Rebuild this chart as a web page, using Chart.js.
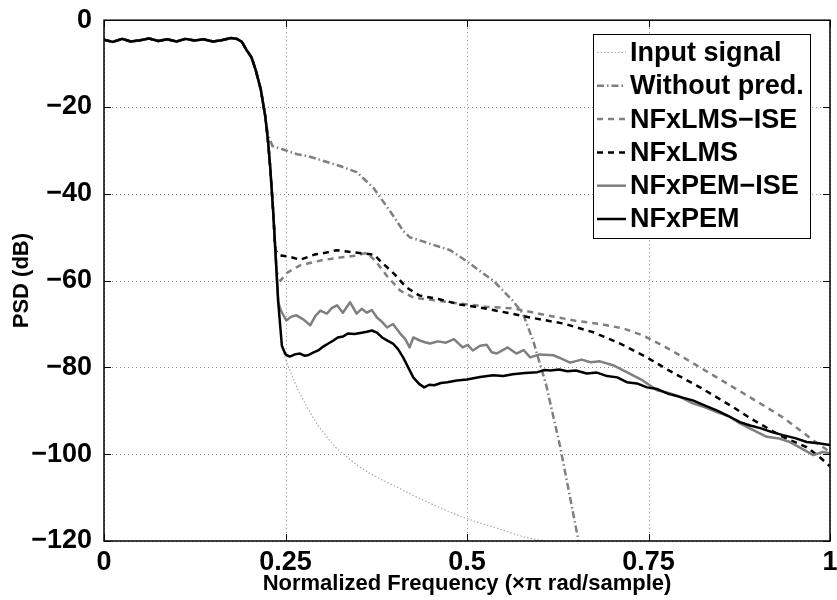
<!DOCTYPE html>
<html>
<head>
<meta charset="utf-8">
<script src="https://cdn.jsdelivr.net/npm/chart.js@4.4.1/dist/chart.umd.min.js"></script>
<style>
  body { margin: 0; background: #fff; }
  #wrap { width: 837px; height: 600px; }
</style>
</head>
<body>
<div id="wrap"><canvas id="psdChart" width="837" height="600"></canvas></div>
<script>
// axis ticks
const xTickValues = [0, 0.25, 0.5, 0.75, 1];
const xTickLabels = ['0', '0.25', '0.5', '0.75', '1'];
const yTickValues = [-120, -100, -80, -60, -40, -20, 0];

// shared passband + start of the transition (all curves overlap here)
const passFreq = [0, 0.012, 0.025, 0.037, 0.05, 0.062, 0.075, 0.087, 0.1, 0.112, 0.125, 0.137,
  0.15, 0.162, 0.175, 0.183, 0.19, 0.196, 0.203, 0.209, 0.216, 0.222];
const passPsd = [-4.5, -5.0, -4.3, -4.9, -4.6, -4.2, -4.8, -4.4, -4.9, -4.3, -4.7, -4.4,
  -4.9, -4.6, -4.1, -4.3, -5.0, -6.8, -8.5, -11.5, -16.0, -22.0];

// further steps of the steep drop, shared by the curves that go deeper
const dropFreq1 = [0.226, 0.229, 0.233, 0.236];
const dropPsd1 = [-28, -34, -44, -53];
const dropFreq2 = [0.240];
const dropPsd2 = [-65];
const dropFreq3 = [0.245];
const dropPsd3 = [-75];

// Without pred.
const noPredFreq = [0.226, 0.232, 0.247, 0.266, 0.280, 0.300, 0.325, 0.348, 0.371, 0.394, 0.412,
  0.421, 0.449, 0.477, 0.500, 0.536, 0.563, 0.577, 0.591, 0.609, 0.628, 0.642, 0.653, 0.656];
const noPredPsd = [-26.5, -29.0, -29.8, -30.9, -31.3, -32.3, -33.6, -35.0, -38.6, -44.0, -48.5,
  -50.0, -51.5, -53.0, -55.6, -60.0, -64.6, -67.6, -73.8, -84.0, -98.0, -110.0, -119.5, -123.0];

// NFxLMS-ISE
const lmsIseFreq = [0.238, 0.243, 0.252, 0.270, 0.300, 0.325, 0.345, 0.362, 0.374, 0.390,
  0.408, 0.426, 0.458, 0.490, 0.526, 0.563, 0.610, 0.651, 0.683, 0.715,
  0.742, 0.770, 0.797, 0.844, 0.890, 0.935, 0.977, 1.0];
const lmsIsePsd = [-58.0, -60.0, -58.2, -56.5, -55.3, -54.7, -54.3, -53.6, -55.5, -59.0,
  -62.3, -63.9, -64.6, -65.3, -66.0, -66.4, -68.0, -69.3, -70.0, -71.0,
  -72.6, -75.0, -77.6, -82.3, -86.9, -91.5, -96.8, -99.5];

// NFxLMS
const lmsFreq = [0.242, 0.256, 0.270, 0.290, 0.305, 0.320, 0.340, 0.360, 0.372, 0.380,
  0.400, 0.416, 0.434, 0.462, 0.490, 0.518, 0.555, 0.587, 0.633, 0.674,
  0.711, 0.748, 0.776, 0.821, 0.867, 0.890, 0.935, 0.968, 0.986, 1.0];
const lmsPsd = [-54.2, -54.5, -55.2, -54.0, -53.6, -53.0, -53.4, -53.8, -54.0, -55.4,
  -58.5, -61.5, -63.4, -64.3, -65.5, -66.2, -67.4, -68.5, -69.9, -71.9,
  -74.5, -77.7, -80.5, -84.6, -89.2, -91.7, -96.0, -98.4, -100.7, -102.8];

// NFxPEM-ISE
const pemIseFreq = [0.244, 0.251, 0.258, 0.265, 0.275, 0.284, 0.291, 0.298, 0.307, 0.314,
  0.321, 0.329, 0.339, 0.348, 0.355, 0.362, 0.369, 0.376, 0.383, 0.390,
  0.398, 0.408, 0.415, 0.421, 0.426, 0.435, 0.442, 0.449, 0.460, 0.471,
  0.482, 0.494, 0.501, 0.508, 0.518, 0.527, 0.534, 0.541, 0.556, 0.568,
  0.578, 0.587, 0.600, 0.619, 0.630, 0.642, 0.658, 0.670, 0.683, 0.701,
  0.720, 0.742, 0.762, 0.775, 0.790, 0.811, 0.828, 0.844, 0.860, 0.876,
  0.895, 0.913, 0.930, 0.945, 0.960, 0.977, 0.990, 1.0];
const pemIsePsd = [-67.0, -69.2, -68.3, -68.0, -69.0, -70.3, -68.2, -66.9, -67.6, -66.3,
  -65.7, -67.4, -65.0, -67.6, -66.5, -67.4, -66.8, -68.5, -69.5, -70.8,
  -70.0, -72.2, -73.5, -75.4, -73.1, -73.8, -74.2, -74.5, -74.0, -74.3,
  -73.5, -75.4, -74.8, -76.1, -75.0, -74.8, -76.5, -76.8, -75.4, -76.8,
  -76.0, -77.7, -77.0, -77.2, -78.0, -78.9, -78.2, -78.8, -78.6, -79.5,
  -81.1, -83.0, -85.3, -85.8, -86.5, -88.3, -89.2, -90.3, -91.2, -92.9,
  -94.5, -96.0, -96.4, -97.2, -98.6, -100.2, -99.5, -99.8];

// NFxPEM
const pemFreq = [0.250, 0.256, 0.263, 0.270, 0.276, 0.281, 0.288, 0.295, 0.302, 0.309,
  0.316, 0.322, 0.329, 0.336, 0.345, 0.355, 0.362, 0.369, 0.376, 0.383,
  0.391, 0.398, 0.405, 0.412, 0.419, 0.426, 0.434, 0.441, 0.448, 0.455,
  0.464, 0.473, 0.486, 0.500, 0.518, 0.536, 0.550, 0.563, 0.580, 0.597,
  0.607, 0.615, 0.627, 0.638, 0.650, 0.665, 0.679, 0.693, 0.707, 0.720,
  0.734, 0.748, 0.762, 0.776, 0.793, 0.811, 0.828, 0.844, 0.860, 0.876,
  0.890, 0.904, 0.920, 0.935, 0.952, 0.968, 0.984, 1.0];
const pemPsd = [-77.0, -77.5, -77.0, -76.8, -77.3, -77.2, -76.6, -76.1, -75.2, -74.5,
  -73.8, -73.1, -72.9, -72.2, -72.3, -72.0, -71.8, -71.5, -72.0, -73.1,
  -73.9, -74.5, -75.8, -77.7, -80.0, -82.3, -83.8, -84.6, -84.0, -84.1,
  -83.6, -83.4, -83.0, -82.8, -82.2, -81.8, -82.0, -81.6, -81.3, -81.1,
  -80.6, -80.7, -80.5, -80.9, -80.7, -81.4, -81.2, -82.0, -82.3, -83.4,
  -83.7, -84.6, -85.0, -86.0, -86.8, -87.6, -88.8, -89.9, -91.2, -92.6,
  -93.4, -94.0, -94.9, -95.6, -96.3, -97.2, -97.5, -97.9];

// Input signal
const inputFreq = [0.249, 0.253, 0.258, 0.268, 0.280, 0.293, 0.307, 0.320, 0.335, 0.350, 0.366,
  0.385, 0.404, 0.426, 0.449, 0.472, 0.494, 0.518, 0.541, 0.560, 0.577, 0.604, 0.640];
const inputPsd = [-77.5, -79.5, -81.5, -85.5, -89.2, -93.0, -96.0, -98.6, -100.7, -102.7, -104.4,
  -106.1, -107.6, -109.5, -111.3, -113.0, -114.5, -115.9, -117.0, -118.1, -119.0, -120.0, -121.0];

function toPoints(...pairs) {
  const pts = [];
  for (let i = 0; i < pairs.length; i += 2) {
    pairs[i].forEach((f, j) => pts.push({ x: f, y: pairs[i + 1][j] }));
  }
  return pts;
}

const GRAY = '#7f7f7f';
const fontFamily = '"Liberation Sans", Arial, Helvetica, sans-serif';

const datasets = [
  {
    label: 'Input signal',
    data: toPoints(passFreq, passPsd, dropFreq1, dropPsd1, dropFreq2, dropPsd2, dropFreq3, dropPsd3, inputFreq, inputPsd),
    borderColor: '#ababab', borderWidth: 1.2, borderDash: [1.5, 2], order: 6
  },
  {
    label: 'Without pred.',
    data: toPoints(passFreq, passPsd, noPredFreq, noPredPsd),
    borderColor: GRAY, borderWidth: 2.5, borderDash: [7, 3, 1.5, 3], order: 5
  },
  {
    label: 'NFxLMS\u2212ISE',
    data: toPoints(passFreq, passPsd, dropFreq1, dropPsd1, lmsIseFreq, lmsIsePsd),
    borderColor: GRAY, borderWidth: 2.5, borderDash: [6, 5], order: 4
  },
  {
    label: 'NFxLMS',
    data: toPoints(passFreq, passPsd, dropFreq1, dropPsd1, lmsFreq, lmsPsd),
    borderColor: '#000', borderWidth: 2.5, borderDash: [6, 5], order: 3
  },
  {
    label: 'NFxPEM\u2212ISE',
    data: toPoints(passFreq, passPsd, dropFreq1, dropPsd1, dropFreq2, dropPsd2, pemIseFreq, pemIsePsd),
    borderColor: GRAY, borderWidth: 2.5, order: 2
  },
  {
    label: 'NFxPEM',
    data: toPoints(passFreq, passPsd, dropFreq1, dropPsd1, dropFreq2, dropPsd2, dropFreq3, dropPsd3, pemFreq, pemPsd),
    borderColor: '#000', borderWidth: 2.5, order: 1
  }
];

// dotted grid under the curves, box + inward ticks over them
const matlabFrame = {
  id: 'matlabFrame',
  beforeDatasetsDraw(chart) {
    const { ctx, chartArea: a, scales: { x, y } } = chart;
    ctx.save();
    ctx.strokeStyle = '#8c8c8c';
    ctx.lineWidth = 1;
    ctx.setLineDash([1, 3]);
    xTickValues.forEach(v => {
      const px = Math.round(x.getPixelForValue(v)) + 0.5;
      ctx.beginPath(); ctx.moveTo(px, a.top); ctx.lineTo(px, a.bottom); ctx.stroke();
    });
    yTickValues.forEach(v => {
      const py = Math.round(y.getPixelForValue(v)) + 0.5;
      ctx.beginPath(); ctx.moveTo(a.left, py); ctx.lineTo(a.right, py); ctx.stroke();
    });
    ctx.restore();
  },
  afterDatasetsDraw(chart) {
    const { ctx, chartArea: a, scales: { x, y } } = chart;
    const tl = 7;
    ctx.save();
    ctx.strokeStyle = '#000';
    ctx.lineWidth = 1.5;
    ctx.strokeRect(a.left, a.top, a.right - a.left, a.bottom - a.top);
    ctx.lineWidth = 1;
    ctx.beginPath();
    xTickValues.forEach(v => {
      const px = Math.round(x.getPixelForValue(v)) + 0.5;
      ctx.moveTo(px, a.bottom); ctx.lineTo(px, a.bottom - tl);
      ctx.moveTo(px, a.top); ctx.lineTo(px, a.top + tl);
    });
    yTickValues.forEach(v => {
      const py = Math.round(y.getPixelForValue(v)) + 0.5;
      ctx.moveTo(a.left, py); ctx.lineTo(a.left + tl, py);
      ctx.moveTo(a.right, py); ctx.lineTo(a.right - tl, py);
    });
    ctx.stroke();
    ctx.restore();
  }
};

const boxLegend = {
  id: 'boxLegend',
  afterDraw(chart) {
    const ctx = chart.ctx;
    ctx.save();
    ctx.fillStyle = '#fff';
    ctx.fillRect(593.5, 34.5, 217, 204);
    ctx.strokeStyle = '#000';
    ctx.lineWidth = 1;
    ctx.strokeRect(593.5, 34.5, 217, 204);
    ctx.font = 'bold 27px ' + fontFamily;
    ctx.textBaseline = 'middle';
    chart.data.datasets.forEach((ds, i) => {
      const yy = 52.5 + i * 33.3;
      ctx.beginPath();
      ctx.setLineDash(ds.borderDash || []);
      ctx.strokeStyle = ds.borderColor;
      ctx.lineWidth = ds.borderWidth;
      ctx.moveTo(597, yy);
      ctx.lineTo(626, yy);
      ctx.stroke();
      ctx.setLineDash([]);
      ctx.fillStyle = '#000';
      ctx.fillText(ds.label, 630, yy + 1);
    });
    ctx.restore();
  }
};

Chart.defaults.color = '#000';

new Chart(document.getElementById('psdChart'), {
  type: 'line',
  data: { datasets },
  options: {
    responsive: false,
    devicePixelRatio: 1,
    animation: false,
    events: [],
    elements: {
      point: { radius: 0 },
      line: { tension: 0, fill: false, borderCapStyle: 'butt', borderJoinStyle: 'round' }
    },
    layout: { padding: { top: 19, right: 7, left: 0, bottom: 0 } },
    plugins: { legend: { display: false }, tooltip: { enabled: false } },
    scales: {
      x: {
        type: 'linear',
        min: 0, max: 1,
        grid: { display: false },
        border: { display: false },
        afterBuildTicks: s => { s.ticks = xTickValues.map(v => ({ value: v })); },
        afterFit: s => { s.height = 59; },
        ticks: {
          autoSkip: false, maxRotation: 0, padding: -3,
          font: { family: fontFamily, size: 27, weight: 'bold' },
          callback: (v, i) => xTickLabels[i]
        },
        title: {
          display: true,
          text: 'Normalized Frequency (\u00d7\u03c0 rad/sample)',
          font: { family: fontFamily, size: 22, weight: 'bold' },
          padding: { top: 0, bottom: 3 }
        }
      },
      y: {
        type: 'linear',
        min: -120, max: 0,
        grid: { display: false },
        border: { display: false },
        afterBuildTicks: s => { s.ticks = yTickValues.map(v => ({ value: v })); },
        afterFit: s => { s.width = 104; },
        ticks: {
          autoSkip: false, padding: 4,
          font: { family: fontFamily, size: 27, weight: 'bold' },
          callback: v => (v < 0 ? '\u2212' + Math.abs(v) : String(v))
        },
        title: {
          display: true,
          text: 'PSD (dB)',
          font: { family: fontFamily, size: 22, weight: 'bold' },
          padding: { top: 9, bottom: 0 }
        }
      }
    }
  },
  plugins: [matlabFrame, boxLegend]
});
</script>
</body>
</html>
